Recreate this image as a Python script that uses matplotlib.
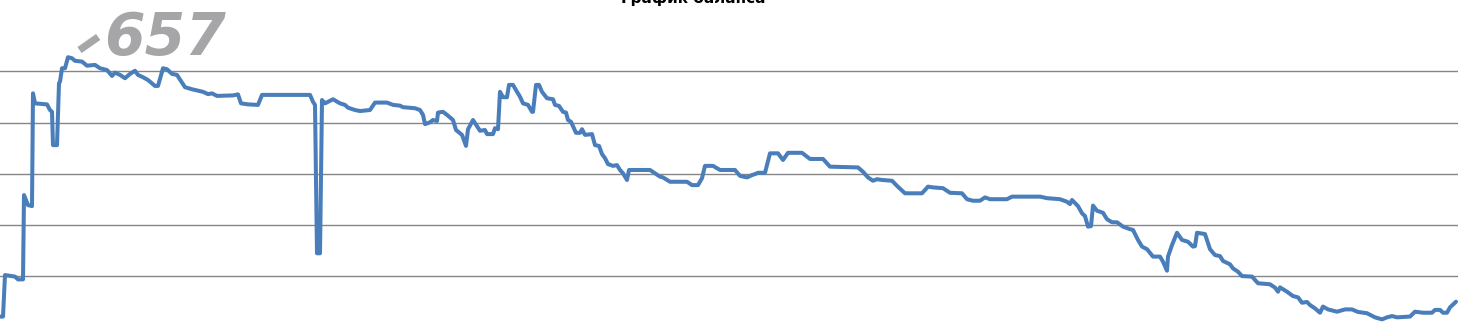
import matplotlib
matplotlib.use("Agg")
import matplotlib.pyplot as plt

# trade index (horizontal) and balance values
trade = [0, 3, 5, 15, 18, 23, 24, 28, 32, 33, 35, 47, 50, 52, 53, 57, 59, 60, 62, 65,
         68, 72, 75, 82, 87, 95, 100, 107, 112, 115, 120, 125, 130, 135, 138, 143, 148, 155, 158, 163,
         167, 172, 177, 185, 192, 203, 208, 212, 217, 233, 238, 241, 248, 258, 262, 310, 313, 315, 317, 320,
         322, 325, 333, 340, 345, 348, 355, 360, 370, 375, 387, 393, 400, 403, 415, 420, 423, 425, 430, 433,
         437, 438, 443, 447, 453, 456, 462, 466, 468, 473, 480, 485, 487, 493, 495, 498, 500, 503, 507, 509,
         513, 517, 520, 523, 528, 532, 533, 536, 539, 542, 547, 553, 555, 559, 563, 566, 568, 571, 576, 580,
         582, 585, 592, 595, 599, 602, 605, 608, 613, 617, 620, 623, 627, 629, 650, 660, 663, 670, 687, 692,
         698, 702, 705, 713, 720, 735, 740, 747, 752, 755, 758, 765, 770, 778, 783, 788, 802, 810, 823, 830,
         858, 863, 868, 873, 877, 882, 892, 897, 905, 922, 928, 933, 943, 950, 962, 967, 973, 980, 985, 990,
         1007, 1012, 1040, 1047, 1060, 1067, 1070, 1072, 1078, 1082, 1085, 1088, 1091, 1093, 1097, 1103, 1107, 1112, 1117, 1123,
         1130, 1133, 1138, 1142, 1147, 1153, 1160, 1163, 1167, 1168, 1172, 1177, 1182, 1188, 1193, 1195, 1197, 1205, 1210, 1215,
         1220, 1223, 1230, 1233, 1238, 1242, 1252, 1258, 1270, 1275, 1278, 1280, 1287, 1293, 1298, 1302, 1307, 1310, 1315, 1320,
         1323, 1328, 1337, 1345, 1352, 1358, 1367, 1375, 1382, 1387, 1392, 1397, 1410, 1415, 1423, 1432, 1435, 1440, 1443, 1447,
         1450, 1456]

balance = [43, 43, 205, 199, 188, 188, 517, 478, 474, 914, 875, 871, 849, 842, 712, 712, 953, 960, 1012, 1012,
           1055, 1051, 1041, 1038, 1022, 1025, 1012, 1005, 982, 995, 986, 973, 990, 1002, 986, 977, 966, 943, 943, 1012,
           1008, 990, 986, 938, 930, 920, 911, 914, 904, 906, 910, 875, 871, 869, 908, 908, 881, 869, 290, 290,
           888, 875, 891, 875, 869, 858, 849, 845, 849, 878, 878, 869, 866, 860, 856, 849, 830, 794, 801, 810,
           806, 839, 842, 830, 810, 771, 752, 709, 774, 810, 768, 771, 755, 755, 778, 774, 920, 899, 899, 947,
           947, 920, 901, 875, 869, 842, 842, 947, 947, 920, 895, 891, 869, 865, 842, 839, 810, 803, 760, 760,
           774, 752, 755, 712, 709, 677, 661, 638, 631, 634, 615, 602, 576, 615, 615, 589, 586, 569, 569, 556,
           556, 583, 631, 631, 615, 615, 592, 586, 595, 599, 604, 604, 680, 680, 654, 682, 682, 658, 658, 628,
           625, 608, 586, 573, 579, 576, 573, 553, 524, 524, 550, 547, 544, 526, 524, 501, 495, 495, 508, 501,
           501, 511, 511, 505, 501, 491, 482, 498, 474, 446, 435, 394, 396, 476, 456, 448, 423, 411, 411, 394,
           384, 381, 342, 316, 306, 277, 277, 257, 222, 277, 322, 370, 342, 335, 316, 318, 370, 365, 306, 283,
           279, 260, 247, 231, 218, 201, 199, 173, 169, 156, 140, 157, 140, 123, 118, 97, 100, 88, 75, 58,
           82, 71, 62, 71, 71, 61, 56, 40, 32, 40, 45, 40, 43, 62, 58, 58, 69, 69, 58, 58,
           79, 101]

grid_levels = [200, 400, 600, 800, 1000]
title_text = "График баланса"
note_digits = "657"
note_dash = "–"

W, H = 1458, 323
fig = plt.figure(figsize=(W / 100, H / 100), dpi=100)
ax = fig.add_axes([0, 0, 1, 1])
ax.set_xlim(0, W)
ax.set_ylim(17.9, 1278.3)
for g in grid_levels:
    ax.axhline(g, color="#868686", lw=1.0, zorder=1)
ax.plot(trade, balance, color="#4a7ebb", lw=2.9, solid_joinstyle="round",
        solid_capstyle="round", zorder=3)
for s in ax.spines.values():
    s.set_visible(False)
ax.set_xticks([])
ax.set_yticks([])

# cut-off title at the top
fig.text(693 / W, 1 - 3 / H, title_text, ha="center", va="baseline",
         fontsize=11, fontweight="bold", color="#000000")

# handwritten annotation
ax.text(104, (327.6 - 55) * 3.902, note_digits, ha="left", va="baseline",
        fontsize=42, fontweight="bold", style="italic", color="#a6a6a8", zorder=4,
        family="DejaVu Sans")
ax.text(88, (327.6 - 41) * 3.902, note_dash, ha="center", va="center", rotation=35,
        fontsize=42, fontweight="bold", color="#a6a6a8", zorder=4, family="DejaVu Sans")

fig.savefig("out.png", dpi=100)
